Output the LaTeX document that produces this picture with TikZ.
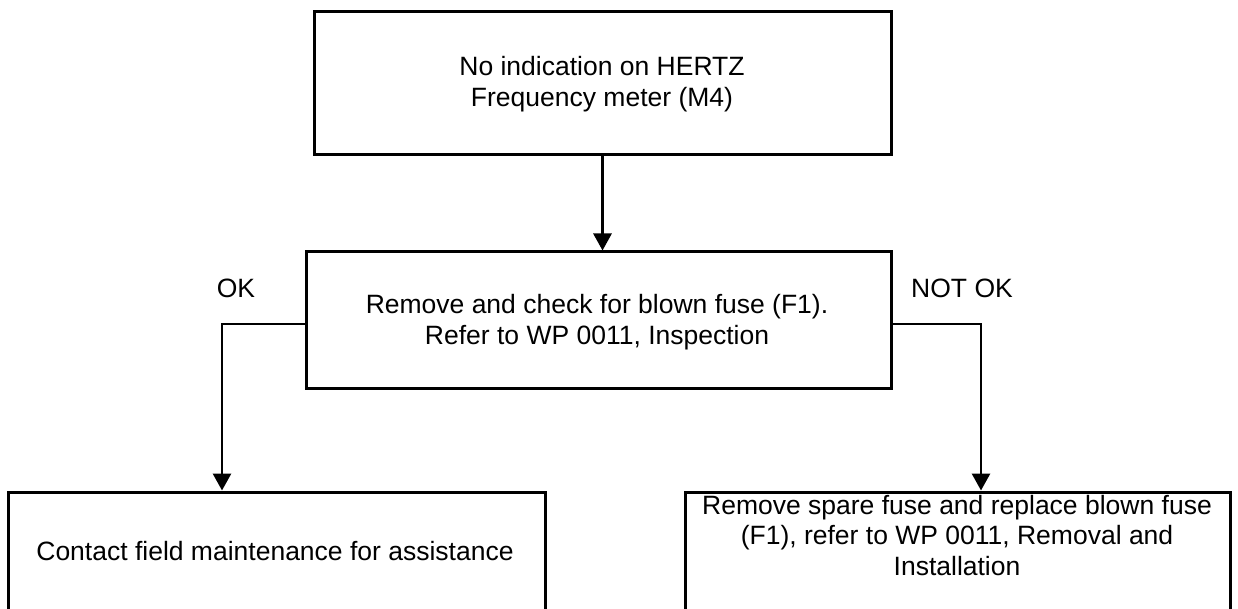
\documentclass[tikz,border=0pt]{standalone}
\usepackage{fontspec}
\setmainfont{Liberation Sans}
\usetikzlibrary{arrows.meta}
\begin{document}
\begin{tikzpicture}[x=1pt,y=-1pt,
  box/.style={draw, line width=3pt, inner sep=0pt},
  txt/.style={font=\fontsize{26.5}{30.5}\selectfont, align=center, inner sep=0pt},
  conn/.style={line width=2.9pt, -{Triangle[width=18pt,length=17pt]}},
  ]
\useasboundingbox (0,0) rectangle (1238,609);
% boxes
\node[box, minimum width=577pt, minimum height=143pt] (top) at (602.5,83.5) {};
\node[box, minimum width=585pt, minimum height=136pt] (mid) at (598.5,320) {};
\node[box, minimum width=537pt, minimum height=138pt] (bl) at (276.5,561) {};
\node[box, minimum width=545pt, minimum height=138pt] (br) at (957.5,561) {};
% texts
\node[txt] (ttop) at (602,84) {No indication on HERTZ\\Frequency meter (M4)};
\node[txt] (tmid) at (597,322) {Remove and check for blown fuse (F1).\\Refer to WP 0011, Inspection};
\node[txt] (tbl) at (275,551.5) {Contact field maintenance for assistance};
\node[txt] (tbr) at (957,535.5) {Remove spare fuse and replace blown fuse\\(F1), refer to WP 0011, Removal and\\Installation};
\node[txt] (ok) at (236,288) {OK};
\node[txt] (notok) at (962,288) {NOT OK};
% connectors
\draw[conn] (top.south) -- (top.south |- mid.north);
\draw[conn] ([yshift=-4pt]mid.west) -| ([xshift=-54.5pt]bl.north);
\draw[conn] ([yshift=-4pt]mid.east) -| ([xshift=23.5pt]br.north);
\end{tikzpicture}
\end{document}
